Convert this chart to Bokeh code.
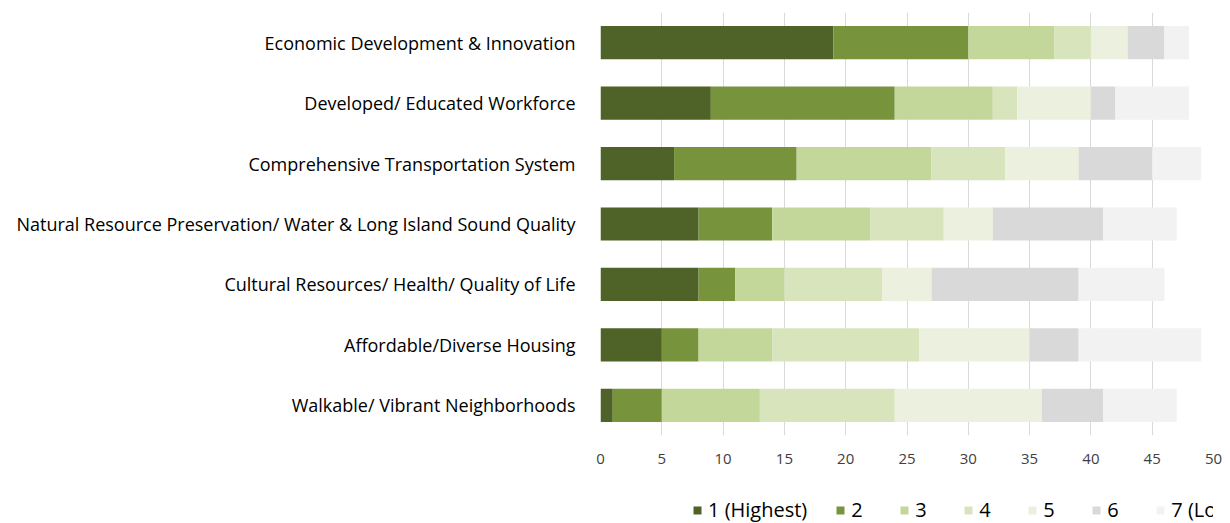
from bokeh.plotting import figure
from bokeh.layouts import column
from bokeh.models import ColumnDataSource, FactorRange, Range1d, Legend, LegendItem, SingleIntervalTicker
from bokeh.embed import file_html
from bokeh.resources import INLINE

categories = [
    "Economic Development & Innovation",
    "Developed/ Educated Workforce",
    "Comprehensive Transportation System",
    "Natural Resource Preservation/ Water & Long Island Sound Quality",
    "Cultural Resources/ Health/ Quality of Life",
    "Affordable/Diverse Housing",
    "Walkable/ Vibrant Neighborhoods",
]
rank1 = [19, 9, 6, 8, 8, 5, 1]
rank2 = [11, 15, 10, 6, 3, 3, 4]
rank3 = [7, 8, 11, 8, 4, 6, 8]
rank4 = [3, 2, 6, 6, 8, 12, 11]
rank5 = [3, 6, 6, 4, 4, 9, 12]
rank6 = [3, 2, 6, 9, 12, 4, 5]
rank7 = [2, 6, 4, 6, 7, 10, 6]
series_labels = ["1 (Highest)", "2", "3", "4", "5", "6", "7 (Lowest)"]
colors = ["#4F6228", "#77933C", "#C4D79B", "#D8E4BC", "#EBF1DE", "#D9D9D9", "#F2F2F2"]
x_ticks = [0, 5, 10, 15, 20, 25, 30, 35, 40, 45, 50]

keys = ["r1", "r2", "r3", "r4", "r5", "r6", "r7"]
source = ColumnDataSource(dict(cat=categories, r1=rank1, r2=rank2, r3=rank3,
                               r4=rank4, r5=rank5, r6=rank6, r7=rank7))

FONT = "Open Sans"
p = figure(frame_width=613, frame_height=423, output_backend="svg", toolbar_location=None,
           y_range=FactorRange(factors=list(reversed(categories))),
           x_range=Range1d(0, 50),
           min_border_left=600, min_border_right=9, min_border_top=12, min_border_bottom=40)

p.hbar_stack(keys, y="cat", height=0.55, color=colors, line_color=None, source=source)

p.outline_line_color = None
p.ygrid.grid_line_color = None
p.xgrid.grid_line_color = "#D9D9D9"
p.xgrid.ticker = SingleIntervalTicker(interval=5)

p.xaxis.ticker = x_ticks
p.xaxis.axis_line_color = None
p.xaxis.major_tick_line_color = None
p.xaxis.minor_tick_line_color = None
p.xaxis.major_label_text_font = FONT
p.xaxis.major_label_text_font_size = "15px"
p.xaxis.major_label_text_color = "#404040"
p.xaxis.major_label_standoff = 12

p.yaxis.axis_line_color = None
p.yaxis.major_tick_line_color = None
p.yaxis.minor_tick_line_color = None
p.yaxis.major_label_text_font = FONT
p.yaxis.major_label_text_font_size = "18px"
p.yaxis.major_label_text_color = "#000000"
p.yaxis.major_label_standoff = 19

# Legend strip: same stacked series with zero bar height, so only the legend shows
lf = figure(width=1222, height=48, output_backend="svg", toolbar_location=None,
            x_range=Range1d(0, 50), y_range=FactorRange(factors=list(reversed(categories))),
            x_axis_type=None, y_axis_type=None, min_border=0)
lf.outline_line_color = None
lf.grid.grid_line_color = None
lrends = lf.hbar_stack(keys, y="cat", height=0, color=colors, line_color=None, source=source)

legend = Legend(items=[LegendItem(label=l, renderers=[r]) for l, r in zip(series_labels, lrends)],
                orientation="horizontal", location=(92, 0),
                label_text_font=FONT, label_text_font_size="20px", label_text_color="#000000",
                glyph_width=10, glyph_height=10, spacing=28, label_standoff=6,
                border_line_color=None, background_fill_alpha=0, margin=0, padding=0)
lf.add_layout(legend, "center")

layout = column(p, lf, spacing=0)
open("out.html", "w").write(file_html(layout, INLINE))
